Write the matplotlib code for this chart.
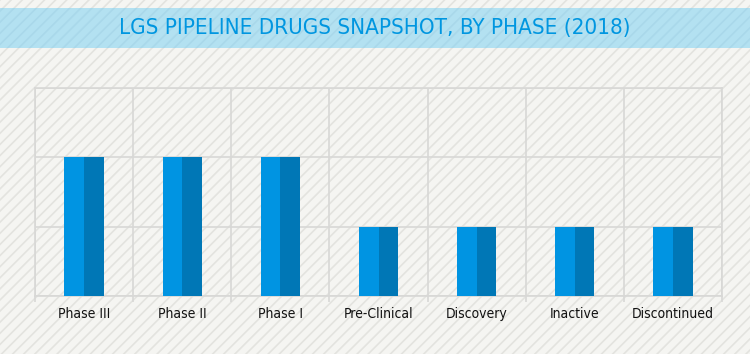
import matplotlib.pyplot as plt
from matplotlib.patches import Rectangle

phases = ['Phase III', 'Phase II', 'Phase I', 'Pre-Clinical', 'Discovery', 'Inactive', 'Discontinued']
drugs = [2, 2, 2, 1, 1, 1, 1]
title = 'LGS PIPELINE DRUGS SNAPSHOT, BY PHASE (2018)'

light = '#0094e2'
dark = '#0077b6'
grid = '#d8d8d6'

plt.rcParams['font.family'] = ['DejaVu Sans']
plt.rcParams['font.stretch'] = 'condensed'
plt.rcParams['hatch.linewidth'] = 1.2

fig = plt.figure(figsize=(7.5, 3.54), dpi=100)
fig.patch.set_facecolor('#f5f5f2')

# hatched background
fig.add_artist(Rectangle((0, 0), 1, 1, transform=fig.transFigure, facecolor='none',
                         edgecolor='#e3e3df', linewidth=0, hatch='///', zorder=0))
# title banner
fig.add_artist(Rectangle((0, 1 - 48/354), 1, 40/354, transform=fig.transFigure,
                         facecolor='#b3e1f1', edgecolor='none', zorder=1))
fig.add_artist(Rectangle((0, 1 - 48/354), 1, 40/354, transform=fig.transFigure,
                         facecolor='none', edgecolor='#a9d8ea', linewidth=0, hatch='///', zorder=1))
fig.text(0.5, 1 - 28/354, title, ha='center', va='center', color='#0096e0',
         fontsize=16, zorder=2)

ax = fig.add_axes([35/750, 1 - 296/354, 687/750, 208/354])
ax.patch.set_alpha(0)

x = list(range(len(phases)))
ax.bar(x, drugs, width=0.4, color=light, linewidth=0, zorder=3)
ax.bar([i + 0.1 for i in x], drugs, width=0.2, color=dark, linewidth=0, zorder=4)

ax.set_xlim(-0.5, len(phases) - 0.5)
ax.set_ylim(0, 3)
ax.set_yticks([0, 1, 2, 3])
ax.set_yticklabels([])
ax.tick_params(axis='y', length=0)
ax.set_xticks(x)
ax.set_xticklabels(phases, fontsize=10, color='#111111', va='baseline')
ax.tick_params(axis='x', which='major', length=0, pad=16)
ax.set_xticks([i - 0.5 for i in range(len(phases) + 1)], minor=True)
ax.tick_params(axis='x', which='minor', length=4, color=grid, width=1.2)
ax.grid(True, which='minor', axis='x', color=grid, linewidth=1.2, zorder=1)
ax.grid(True, which='major', axis='y', color=grid, linewidth=1.2, zorder=1)
for s in ax.spines.values():
    s.set_color(grid)
    s.set_linewidth(1.2)

fig.savefig('out.png', dpi=100, facecolor=fig.get_facecolor())
